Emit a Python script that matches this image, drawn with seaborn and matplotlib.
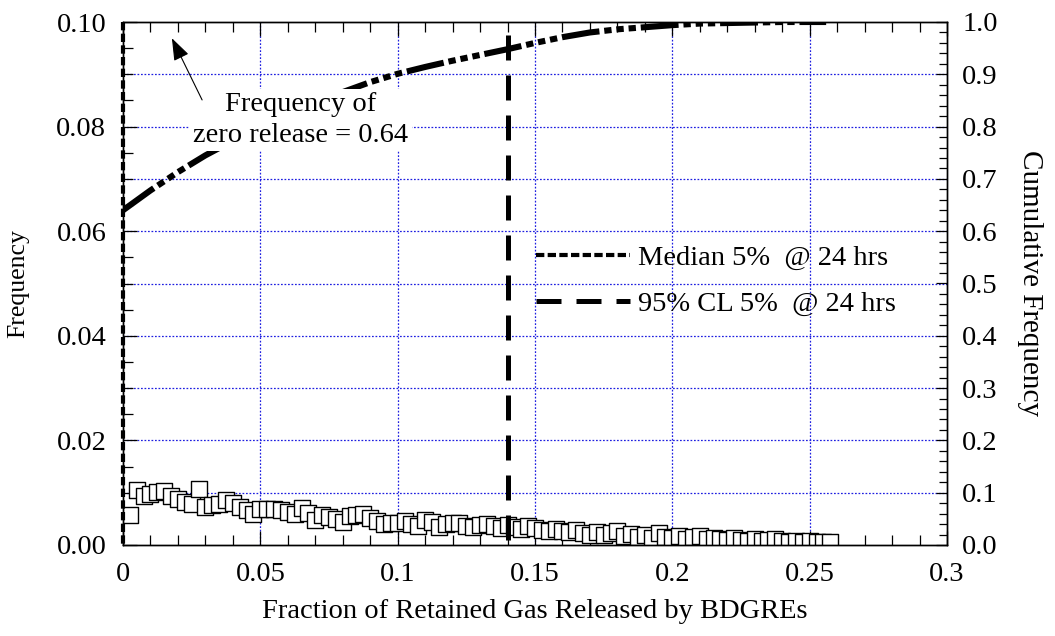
import numpy as np
import matplotlib
matplotlib.use("Agg")
import matplotlib.pyplot as plt
from matplotlib.ticker import MultipleLocator, FormatStrFormatter
from matplotlib.patches import ArrowStyle
import seaborn as sns

# ---- data -------------------------------------------------------------
bin_width = 0.0025
release_freq = [
    0.0057, 0.0106, 0.0093, 0.0098, 0.0101, 0.0103, 0.0094, 0.0087, 0.0082, 0.0079,
    0.0107, 0.0073, 0.0076, 0.0078, 0.0086,
    0.0080, 0.0072, 0.0066, 0.0060, 0.0069, 0.0068, 0.0068, 0.0066, 0.0064, 0.0060,
    0.0070, 0.0062, 0.0048, 0.0058, 0.0054, 0.0050, 0.0044, 0.0055,
    0.0058, 0.0060, 0.0052, 0.0046, 0.0040, 0.0042, 0.0042, 0.0046, 0.0040, 0.0036,
    0.0047, 0.0044, 0.0034, 0.0040, 0.0043, 0.0042, 0.0036, 0.0034,
    0.0038, 0.0040, 0.0036, 0.0033, 0.0038, 0.0034, 0.0030, 0.0036, 0.0032, 0.0028,
    0.0026, 0.0030, 0.0027, 0.0024, 0.0028, 0.0022, 0.0020,
    0.0024, 0.0020, 0.0022, 0.0026, 0.0018, 0.0021, 0.0016, 0.0019, 0.0014, 0.0022,
    0.0016, 0.0014, 0.0018, 0.0012, 0.0015, 0.0017, 0.0011, 0.0013,
    0.0012, 0.0009, 0.0014, 0.0010, 0.0008, 0.0012, 0.0007, 0.0009, 0.0011, 0.0007,
    0.0006, 0.0008, 0.0006, 0.0007, 0.0005, 0.0006, 0.0006,
]
bin_centers = bin_width * np.arange(1, len(release_freq) + 1)

cum_x = [0.00, 0.01, 0.02, 0.03, 0.04, 0.05, 0.06, 0.07, 0.08, 0.09, 0.10,
         0.11, 0.12, 0.13, 0.14, 0.15, 0.16, 0.17, 0.18, 0.19, 0.20,
         0.21, 0.22, 0.23, 0.24, 0.25, 0.256]
cum_y = [0.640, 0.678, 0.713, 0.745, 0.773, 0.799, 0.823, 0.845, 0.866, 0.885, 0.901,
         0.914, 0.926, 0.937, 0.948, 0.960, 0.971, 0.980, 0.986, 0.990, 0.994,
         0.997, 0.998, 0.999, 1.000, 1.000, 1.000]

median_release = 0.0
cl95_release = 0.14
zero_release_freq = 0.64

x_ticks = [0, 0.05, 0.1, 0.15, 0.2, 0.25, 0.3]
x_tick_labels = ["0", "0.05", "0.1", "0.15", "0.2", "0.25", "0.3"]
y_ticks = [0.00, 0.02, 0.04, 0.06, 0.08, 0.10]
cum_ticks = [0.0, 0.1, 0.2, 0.3, 0.4, 0.5, 0.6, 0.7, 0.8, 0.9, 1.0]

# ---- style ------------------------------------------------------------
sns.set_theme(style="white")
plt.rcParams["font.family"] = ["Liberation Serif", "DejaVu Serif"]
plt.rcParams["text.color"] = "black"
plt.rcParams["axes.labelcolor"] = "black"
FS = 20.5
GRID = dict(color="#1f1fe0", lw=0.9, ls=(0, (1.4, 1.4)))

fig = plt.figure(figsize=(10.55, 6.36), dpi=100)
ax = fig.add_axes([123 / 1055, 91 / 636, 824 / 1055, 523 / 636])
ax2 = ax.twinx()

# grid (drawn under the markers)
for gy in np.arange(0.01, 0.1, 0.01):
    ax.axhline(gy, zorder=0.5, **GRID)
for gx in [0.05, 0.1, 0.15, 0.2, 0.25]:
    ax.axvline(gx, zorder=0.5, **GRID)

# frequency histogram as open squares
sns.scatterplot(x=bin_centers, y=release_freq, ax=ax, marker="s", s=125,
                facecolor="white", edgecolor="black", linewidth=1.0, zorder=2)

# median and 95% CL lines
ax.plot([median_release, median_release], [0.1, 0.0], color="black", lw=3.0,
        ls=(0, (2.0, 0.8)), dash_capstyle="butt", clip_on=False, zorder=3,
        label="Median 5%  @ 24 hrs")
ax.plot([cl95_release, cl95_release], [0.0975, 0.0], color="black", lw=3.6,
        ls=(0, (5.0, 3.0)), dash_capstyle="butt", zorder=3,
        label="95% CL 5%  @ 24 hrs")

# cumulative frequency
sns.lineplot(x=cum_x, y=cum_y, ax=ax2, color="black", lw=4.4, sort=False)
cl = ax2.lines[-1]
cl.set_linestyle((0, (6.2, 0.8, 1.2, 0.8, 1.2, 0.8, 1.2, 0.8)))
cl.set_dash_capstyle("butt")

# axes limits and ticks
ax.set_xlim(0, 0.3)
ax.set_ylim(0, 0.1)
ax2.set_ylim(0, 1.0)

ax.set_xticks(x_ticks, x_tick_labels)
ax.xaxis.set_minor_locator(MultipleLocator(0.01))
ax.set_yticks(y_ticks)
ax.yaxis.set_major_formatter(FormatStrFormatter("%.2f"))
ax.yaxis.set_minor_locator(MultipleLocator(0.005))
ax2.set_yticks(cum_ticks)
ax2.yaxis.set_major_formatter(FormatStrFormatter("%.1f"))
ax2.yaxis.set_minor_locator(MultipleLocator(0.02))

ax.tick_params(axis="both", which="both", direction="in", colors="black",
               labelsize=FS, top=True, bottom=True, left=True, right=False)
ax.tick_params(axis="both", which="major", length=10, width=0.9, pad=12)
ax.tick_params(axis="both", which="minor", length=7, width=0.9)
ax2.tick_params(axis="y", which="both", direction="in", colors="black",
                labelsize=FS, right=True, left=False)
ax2.tick_params(axis="y", which="major", length=8, width=0.9, pad=11)
ax2.tick_params(axis="y", which="minor", length=6, width=0.9)

for a in (ax, ax2):
    for s in a.spines.values():
        s.set_color("black")
        s.set_linewidth(1.0)

# axis labels
ax.set_xlabel("Fraction of Retained Gas Released by BDGREs", fontsize=FS)
ax.set_ylabel("Frequency", fontsize=18.5)
ax2.set_ylabel("Cumulative Frequency", fontsize=FS + 0.5, rotation=270)
ax.xaxis.label.set_va("center")
ax.xaxis.set_label_coords(0.5, (545 - 612) / 523)
ax.yaxis.label.set_va("center")
ax.yaxis.set_label_coords((18 - 123) / 824, 0.5)
ax2.yaxis.label.set_va("center")
ax2.yaxis.set_label_coords((1030 - 123) / 824, 0.5)

# legend
ax.legend(loc="center left", bbox_to_anchor=((536 - 123) / 824, (545 - 281) / 523),
          frameon=False, fontsize=FS, handlelength=3.3, handletextpad=0.3,
          labelspacing=0.7, borderpad=0, borderaxespad=0, labelcolor="black")

# note for the zero-release fraction
ax2.annotate(f"Frequency of\nzero release = {zero_release_freq:.2f}",
             xy=(0.0648, 0.8125), ha="center", va="center", fontsize=FS,
             linespacing=1.3, zorder=5, color="black",
             bbox=dict(boxstyle="square,pad=0.12", fc="white", ec="none"))
ax2.annotate("", xy=(0.0178, 0.969), xytext=(0.0288, 0.851), zorder=6,
             arrowprops=dict(arrowstyle=ArrowStyle("-|>", head_length=0.55,
                                                   head_width=0.2),
                             mutation_scale=25, color="black", lw=0.8,
                             shrinkA=0, shrinkB=0))

fig.savefig("out.png", dpi=100)
